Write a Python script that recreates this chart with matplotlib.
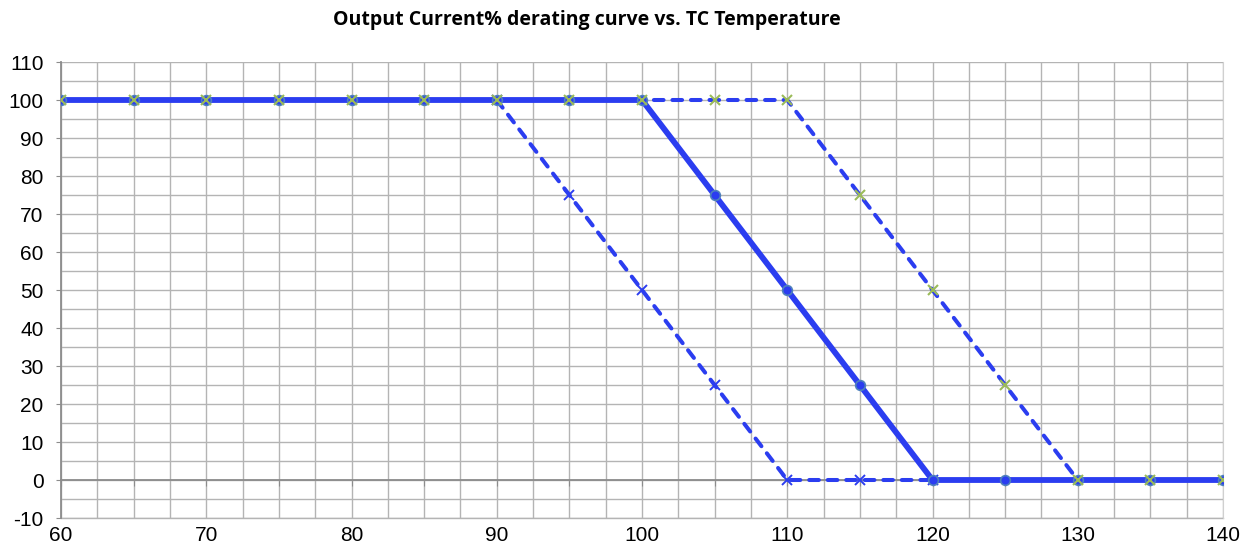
import matplotlib
matplotlib.use("Agg")
import matplotlib.pyplot as plt
from matplotlib.ticker import MultipleLocator

# --- datos ---
temp_main = [60, 65, 70, 75, 80, 85, 90, 95, 100, 105, 110, 115, 120, 125, 130, 135, 140]
curr_main = [100, 100, 100, 100, 100, 100, 100, 100, 100, 75, 50, 25, 0, 0, 0, 0, 0]

temp_low = [90, 95, 100, 105, 110, 115, 120]
curr_low = [100, 75, 50, 25, 0, 0, 0]

temp_high = [60, 65, 70, 75, 80, 85, 90, 95, 100, 105, 110, 115, 120, 125, 130, 135, 140]
curr_high = [100, 100, 100, 100, 100, 100, 100, 100, 100, 100, 100, 75, 50, 25, 0, 0, 0]

x_ticks = [60, 70, 80, 90, 100, 110, 120, 130, 140]
y_ticks = [-10, 0, 10, 20, 30, 40, 50, 60, 70, 80, 90, 100, 110]

azul = "#2B3DF0"
borde = "#4F81BD"
verde = "#9BBB59"
gris = "#B4B4B4"

fig = plt.figure(figsize=(12.52, 5.48), dpi=100)
ax = fig.add_axes([61 / 1252, 30 / 548, 1162 / 1252, 456 / 548])

ax.set_xlim(60, 140)
ax.set_ylim(-10, 110)

# rejilla
ax.xaxis.set_minor_locator(MultipleLocator(2.5))
ax.yaxis.set_minor_locator(MultipleLocator(5))
ax.grid(True, which="both", color=gris, linewidth=1.0)
ax.set_axisbelow(True)

# series
ax.plot(temp_low, curr_low, color=azul, linewidth=2.9, dashes=(2.4, 2.2),
        dash_capstyle="round", marker="x", markersize=6.5, markeredgewidth=1.4,
        markeredgecolor=azul, zorder=3)
ax.plot(temp_main, curr_main, color=azul, linewidth=4.2, marker="o",
        markersize=7, markerfacecolor=azul, markeredgecolor=borde,
        markeredgewidth=1.2, zorder=4)
ax.plot(temp_high, curr_high, color=azul, linewidth=2.9, dashes=(2.4, 2.2),
        dash_capstyle="round", zorder=3)
ax.plot(temp_high, curr_high, linestyle="none", marker="x", markersize=7,
        markeredgewidth=1.5, markeredgecolor=verde, zorder=5)

# ejes: eje horizontal en y=0 con marcas cada 5
ax.spines["bottom"].set_position(("data", 0))
ax.spines["bottom"].set_color("#8C8C8C")
ax.spines["bottom"].set_linewidth(1.3)
ax.spines["left"].set_color("#8C8C8C")
ax.spines["left"].set_linewidth(1.3)
ax.spines["top"].set_visible(False)
ax.spines["right"].set_color("#D0D0D0")

ax.set_xticks(range(60, 141, 5))
ax.tick_params(axis="x", which="major", direction="out", length=4,
               color="#8C8C8C", labelbottom=False)
ax.tick_params(axis="x", which="minor", length=0)
ax.set_yticks(y_ticks)
ax.set_yticklabels([str(v) for v in y_ticks], fontfamily="Liberation Sans",
                   fontsize=15)
ax.tick_params(axis="y", which="major", direction="out", length=3.6,
               color="#8C8C8C", pad=9)
ax.tick_params(axis="y", which="minor", length=0)

sec = ax.secondary_xaxis("bottom")
sec.set_xticks(x_ticks)
sec.set_xticklabels([str(v) for v in x_ticks], fontfamily="Liberation Sans",
                    fontsize=15)
sec.tick_params(length=0, pad=6)
sec.spines["bottom"].set_color(gris)
sec.spines["bottom"].set_linewidth(1.0)

fig.text(587 / 1252, 1 - 20 / 548, "Output Current% derating curve vs. TC Temperature",
         ha="center", va="center", fontsize=14, fontweight="bold",
         fontfamily="Open Sans")

fig.savefig("out.png", dpi=100)
